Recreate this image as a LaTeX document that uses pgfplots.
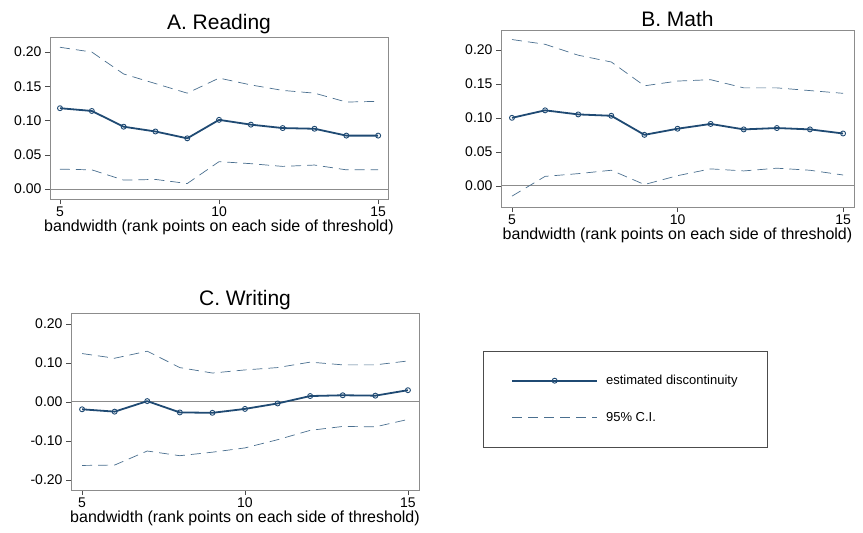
\documentclass[border=0pt]{standalone}
\usepackage{pgfplots}
\pgfplotsset{compat=1.18}
\usepackage{fontspec}
\setmainfont{Liberation Sans}
\definecolor{est}{HTML}{1F4A73}
\definecolor{ci}{HTML}{4A6F8F}
\pgfplotsset{
  panel/.style={scale only axis, xtick={5,10,15}, tick align=outside, xtick pos=bottom, ytick pos=left,
    font=\fontsize{14}{15}\selectfont, title style={font=\fontsize{21}{23}\selectfont, yshift=-6pt},
    /pgf/number format/assume math mode=true,
    yticklabel style={/pgf/number format/.cd, fixed, fixed zerofill, precision=2},
    xlabel={bandwidth (rank points on each side of threshold)}, xlabel style={yshift=3pt, font=\fontsize{16}{17}\selectfont},
    xticklabel style={yshift=1pt},
    axis line style={black!45}, tick style={black!70, major tick length=5pt},
    every axis plot/.append style={line join=round}},
  estp/.style={est, line width=1.8pt, mark=o, mark size=2.5pt, mark options={line width=0.9pt}},
  cip/.style={ci, line width=0.7pt, dash pattern=on 10pt off 6pt},
}
\begin{document}
\begin{tikzpicture}
\path (0pt,0pt) rectangle (863pt,-533pt);
% A
\begin{axis}[panel, at={(50pt,-199pt)}, anchor=south west, width=338pt, height=162pt,
  xmin=4.686, xmax=15.31, ymin=-0.0146, ymax=0.222, ytick={0,0.05,0.1,0.15,0.2}, title={A. Reading}]
\addplot[black!45, line width=0.8pt] coordinates {(4.686,0) (15.31,0)};
\addplot[cip] coordinates {(5,.207)(6,.200)(7,.168)(8,.154)(9,.140)(10,.162)(11,.152)(12,.144)(13,.140)(14,.127)(15,.128)};
\addplot[cip] coordinates {(5,.029)(6,.028)(7,.013)(8,.014)(9,.008)(10,.040)(11,.037)(12,.033)(13,.035)(14,.028)(15,.028)};
\addplot[estp] coordinates {(5,.118)(6,.114)(7,.091)(8,.084)(9,.074)(10,.101)(11,.094)(12,.089)(13,.088)(14,.078)(15,.078)};
\end{axis}
% B
\begin{axis}[panel, at={(501pt,-207pt)}, anchor=south west, width=353pt, height=177pt,
  xmin=4.668, xmax=15.33, ymin=-0.031, ymax=0.229, ytick={0,0.05,0.1,0.15,0.2}, title={B. Math}]
\addplot[black!45, line width=0.8pt] coordinates {(4.668,0) (15.33,0)};
\addplot[cip] coordinates {(5,.215)(6,.208)(7,.192)(8,.182)(9,.147)(10,.154)(11,.156)(12,.144)(13,.144)(14,.140)(15,.136)};
\addplot[cip] coordinates {(5,-.015)(6,.014)(7,.018)(8,.023)(9,.002)(10,.015)(11,.025)(12,.022)(13,.026)(14,.023)(15,.016)};
\addplot[estp] coordinates {(5,.100)(6,.111)(7,.105)(8,.103)(9,.075)(10,.084)(11,.091)(12,.083)(13,.085)(14,.083)(15,.077)};
\end{axis}
% C
\begin{axis}[panel, at={(71pt,-490pt)}, anchor=south west, width=348pt, height=177pt,
  xmin=4.66, xmax=15.34, ymin=-0.226, ymax=0.228, ytick={-0.2,-0.1,0,0.1,0.2}, title={C. Writing}]
\addplot[black!45, line width=0.8pt] coordinates {(4.66,0) (15.34,0)};
\addplot[cip] coordinates {(5,.124)(6,.112)(7,.130)(8,.088)(9,.074)(10,.082)(11,.088)(12,.102)(13,.095)(14,.095)(15,.105)};
\addplot[cip] coordinates {(5,-.163)(6,-.162)(7,-.126)(8,-.138)(9,-.129)(10,-.118)(11,-.097)(12,-.073)(13,-.063)(14,-.064)(15,-.045)};
\addplot[estp] coordinates {(5,-.019)(6,-.025)(7,.002)(8,-.027)(9,-.028)(10,-.018)(11,-.004)(12,.015)(13,.017)(14,.016)(15,.030)};
\end{axis}
% legend
\begin{axis}[hide axis, scale only axis, at={(483pt,-450pt)}, anchor=south west, width=287pt, height=99pt,
  xmin=0, xmax=1, ymin=0, ymax=1,
  legend style={at={(0,1)}, anchor=north west, draw=black!70, line width=0.5pt,
    inner xsep=28pt, inner ysep=22pt, row sep=22pt,
    font=\fontsize{13}{14}\selectfont},
  legend cell align=left,
  legend image code/.code={\draw[#1] (0pt,0pt) -- (85pt,0pt); \draw[#1, solid, mark repeat=1] plot coordinates {(42.5pt,0pt)};}]
\addlegendimage{estp}
\addlegendentry{\hspace*{6pt}estimated discontinuity}
\addlegendimage{cip}
\addlegendentry{\hspace*{6pt}95\% C.I.}
\end{axis}
\end{tikzpicture}
\end{document}
